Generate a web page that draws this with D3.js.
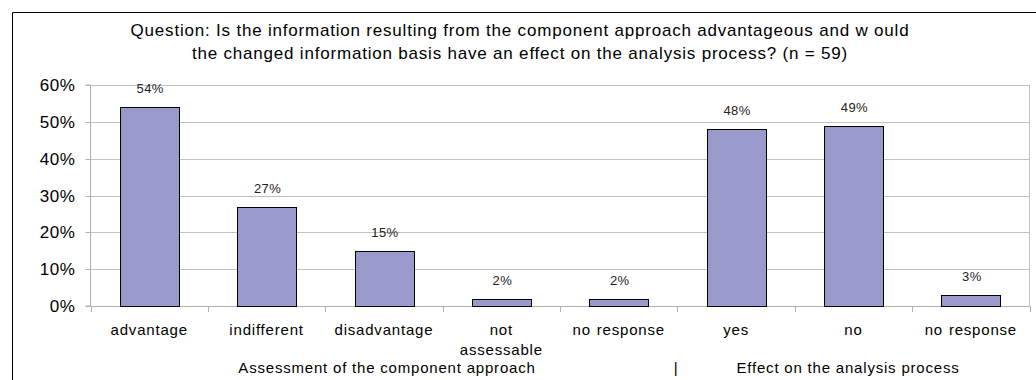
<!DOCTYPE html>
<html>
<head>
<meta charset="utf-8">
<script src="https://cdn.jsdelivr.net/npm/d3@7"></script>
<style>
  html, body { margin: 0; padding: 0; background: #fff; }
  svg { display: block; font-family: "Liberation Sans", Arial, sans-serif; }
</style>
</head>
<body>
<svg id="chart" width="1036" height="380"></svg>
<script>
// Survey answers, share of respondents (n = 59)
const categories = ["advantage", "indifferent", "disadvantage", "not assessable", "no response", "yes", "no", "no response "];
const categoryLines = [["advantage"], ["indifferent"], ["disadvantage"], ["not", "assessable"], ["no response"], ["yes"], ["no"], ["no response"]];
const shares = [54, 27, 15, 2, 2, 48, 49, 3];
const yTicks = [0, 10, 20, 30, 40, 50, 60];
const titleLines = [
  "Question: Is the information resulting from the component approach advantageous and w ould",
  "the changed information basis have an effect on the analysis process? (n = 59)"
];
const groupLabels = ["Assessment of the component approach", "|", "Effect on the analysis process"];

const svg = d3.select("#chart");
const W = 1036, H = 380;
const plot = { left: 90.5, right: 1029.5, top: 85, bottom: 306 };

// outer frame
svg.append("path")
  .attr("d", `M12.5,${H + 2}V12.5H${W + 2}`)
  .attr("fill", "none").attr("stroke", "#000").attr("stroke-width", 1);

// title
svg.append("g").selectAll("text").data(titleLines).join("text")
  .attr("x", 520).attr("y", (d, i) => 36 + i * 23)
  .attr("text-anchor", "middle").attr("font-size", 17).attr("letter-spacing", 0.8)
  .attr("fill", "#000")
  .text(d => d);

const x = d3.scaleBand().domain(categories).range([plot.left, plot.right]).paddingInner(0.5).paddingOuter(0.25);
const y = d3.scaleLinear().domain([0, 60]).range([plot.bottom, plot.top]);

// gridlines
svg.append("g").selectAll("line").data(yTicks.filter(t => t > 0)).join("line")
  .attr("x1", plot.left).attr("x2", plot.right)
  .attr("y1", d => Math.round(y(d)) + 0.5).attr("y2", d => Math.round(y(d)) + 0.5)
  .attr("stroke", "#c0c0c0").attr("stroke-width", 1);

// right border of the plot area
svg.append("line")
  .attr("x1", plot.right).attr("x2", plot.right).attr("y1", plot.top).attr("y2", plot.bottom)
  .attr("stroke", "#c0c0c0");

// y axis
const yAxis = d3.axisLeft(y).tickValues(yTicks).tickFormat(d => d + "%").tickSize(5).tickPadding(10);
const gy = svg.append("g").attr("transform", `translate(${plot.left},0)`).call(yAxis);
gy.select(".domain").attr("stroke", "#b0b0b0").attr("d", `M-5,${plot.top}H0V${plot.bottom}H-5`);
gy.selectAll(".tick line").attr("stroke", "#b0b0b0");
gy.selectAll(".tick text").attr("font-size", 17).attr("letter-spacing", 0.6).attr("fill", "#000")
  .attr("font-family", "Liberation Sans, Arial, sans-serif");
gy.selectAll(".tick").attr("transform", d => `translate(0,${Math.round(y(d)) + 0.5})`);

// x axis baseline and category separators
const step = x.step();
const boundaries = d3.range(categories.length + 1).map(i => plot.left + i * step);
svg.append("line")
  .attr("x1", plot.left).attr("x2", plot.right)
  .attr("y1", plot.bottom + 0.5).attr("y2", plot.bottom + 0.5)
  .attr("stroke", "#b0b0b0");
svg.append("g").selectAll("line").data(boundaries).join("line")
  .attr("x1", d => Math.round(d) + 0.5).attr("x2", d => Math.round(d) + 0.5)
  .attr("y1", plot.bottom).attr("y2", plot.bottom + 6)
  .attr("stroke", "#b0b0b0");

// bars
svg.append("g").selectAll("rect").data(shares).join("rect")
  .attr("x", (d, i) => Math.round(x(categories[i])) + 0.5)
  .attr("y", d => Math.round(y(d)) + 0.5)
  .attr("width", Math.round(x.bandwidth()))
  .attr("height", d => Math.round(plot.bottom) - Math.round(y(d)))
  .attr("fill", "#9999cc").attr("stroke", "#000").attr("stroke-width", 1);

// value labels
svg.append("g").selectAll("text").data(shares).join("text")
  .attr("x", (d, i) => x(categories[i]) + x.bandwidth() / 2 + 1)
  .attr("y", d => y(d) - 14)
  .attr("text-anchor", "middle").attr("font-size", 13).attr("letter-spacing", 0.4).attr("fill", "#222")
  .text(d => d + "%");

// category labels
const catG = svg.append("g").selectAll("text").data(categoryLines).join("text")
  .attr("text-anchor", "middle").attr("font-size", 15).attr("letter-spacing", 0.8)
  .attr("word-spacing", 1).attr("fill", "#000");
catG.selectAll("tspan").data((d, i) => d.map(line => ({ line, i }))).join("tspan")
  .attr("x", d => x(categories[d.i]) + x.bandwidth() / 2)
  .attr("y", (d, j) => 335 + j * 20)
  .text(d => d.line);

// group labels under the categories
const groupX = [387, 676, 848];
svg.append("g").selectAll("text").data(groupLabels).join("text")
  .attr("x", (d, i) => groupX[i]).attr("y", 373)
  .attr("text-anchor", "middle").attr("font-size", 15).attr("letter-spacing", 0.8)
  .attr("fill", "#000")
  .text(d => d);
</script>
</body>
</html>
